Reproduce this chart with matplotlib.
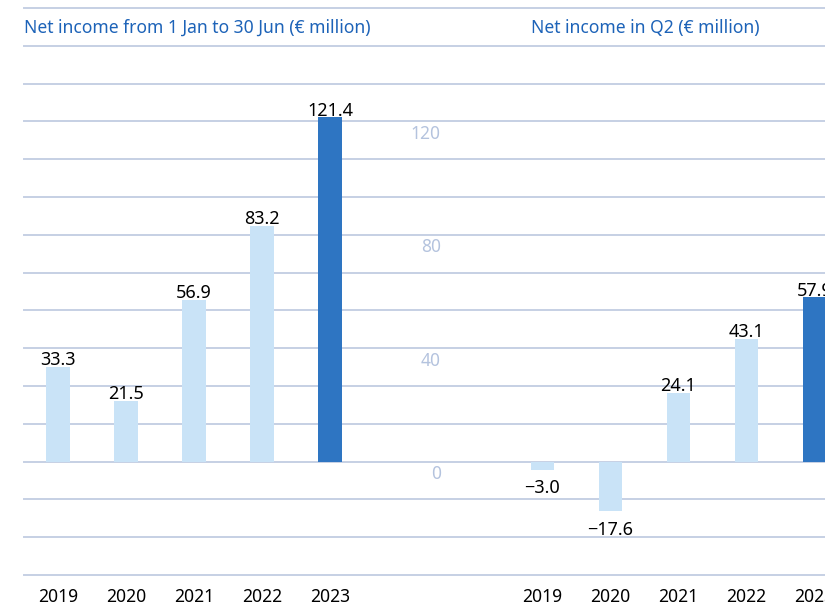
import matplotlib
matplotlib.use("Agg")
import matplotlib.pyplot as plt
import numpy as np

years = ["2019", "2020", "2021", "2022", "2023"]
h1_values = [33.3, 21.5, 56.9, 83.2, 121.4]
q2_values = [-3.0, -17.6, 24.1, 43.1, 57.9]
y_tick_values = [0, 40, 80, 120]
title_left = "Net income from 1 Jan to 30 Jun (€ million)"
title_right = "Net income in Q2 (€ million)"

LIGHT = "#c9e3f7"
DARK = "#2e75c2"
GRID = "#c6d0e4"
TITLE_COLOR = "#1d63b8"
TICK_COLOR = "#b4c3de"
FONT = ["Noto Sans", "DejaVu Sans"]

PANEL_OFFSET = 7.12
BAR_WIDTH = 0.34


def fmt(v):
    s = f"{abs(v):.1f}"
    return "\u2212" + s if v < 0 else s


plt.rcParams["font.family"] = FONT
fig = plt.figure(figsize=(8.25, 6.06), dpi=100)
ax = fig.add_axes([24 / 825, 1 - 575 / 606, 1 - 24 / 825, (575 - 8) / 606])
ax.set_xlim(-0.5, 11.279)
ax.set_ylim(-40, 160)

for gy in np.linspace(-40, 160, 16):
    ax.axhline(gy, color=GRID, lw=1.4, zorder=0, clip_on=False)

left_pos = np.arange(len(years))
right_pos = left_pos + PANEL_OFFSET
colors = [LIGHT] * (len(years) - 1) + [DARK]

for pos, vals in ((left_pos, h1_values), (right_pos, q2_values)):
    ax.bar(pos, vals, width=BAR_WIDTH, color=colors, zorder=2)
    for x, v in zip(pos, vals):
        if v >= 0:
            ax.annotate(fmt(v), (x, v), xytext=(0, -1.5), textcoords="offset points",
                        ha="center", va="bottom", fontsize=13, color="black")
        else:
            ax.annotate(fmt(v), (x, v), xytext=(0, -6.5), textcoords="offset points",
                        ha="center", va="top", fontsize=13, color="black")

for t in y_tick_values:
    ax.annotate(str(t), (5.63, t), xytext=(0, -2.5), textcoords="offset points",
                ha="right", va="top", fontsize=12.5, color=TICK_COLOR)

ax.set_xticks(np.concatenate([left_pos, right_pos]))
ax.set_xticklabels(years + years, fontsize=12.6, color="black")
ax.tick_params(axis="x", length=0, pad=9)
ax.set_yticks([])
for s in ax.spines.values():
    s.set_visible(False)

ax.text(-0.5, 153.0, title_left, ha="left", va="center", fontsize=12.6, color=TITLE_COLOR)
ax.text(6.956, 153.0, title_right, ha="left", va="center", fontsize=12.6, color=TITLE_COLOR)

fig.savefig("out.png", dpi=100)
